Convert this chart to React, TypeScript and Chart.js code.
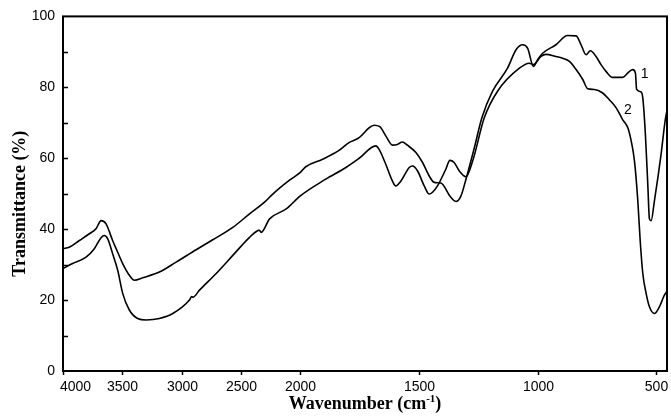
import React, { useEffect, useRef } from 'react';
import { Chart, registerables } from 'chart.js';

Chart.register(...registerables);

// Wavenumber axis: 500 cm-1 spans twice as wide below 2000 cm-1 as above it
const toU = (w: number) => (w > 2000 ? 2000 + (w - 2000) / 2 : w);
const fromU = (u: number) => (u > 2000 ? 2000 + (u - 2000) * 2 : u);

const X_MIN_WN = 455;
const X_MAX_WN = 4000;
const X_TICKS = [4000, 3500, 3000, 2500, 2000, 1500, 1000, 500];
const Y_MIN = 0;
const Y_MAX = 100;
const Y_STEP = 10;

// Spectrum 1
const WN1 = [4000, 3947, 3862, 3778, 3722, 3679, 3637, 3582, 3539, 3497, 3441, 3398, 3328, 3188, 3047, 2878, 2738, 2569, 2428, 2302, 2232, 2091, 2000, 1977, 1906, 1837, 1795, 1752, 1710, 1689, 1665, 1640, 1612, 1591, 1570, 1549, 1513, 1485, 1457, 1436, 1408, 1366, 1344, 1323, 1302, 1267, 1235, 1190, 1127, 1091, 1063, 1042, 1018, 1000, 979, 923, 874, 838, 817, 796, 778, 754, 733, 712, 684, 642, 613, 599, 588, 583, 564, 557, 546, 536, 529, 522, 508, 480, 463, 455];
const T1 = [34.5, 34.9, 36.8, 38.7, 40.1, 42.4, 41.5, 36.8, 33.5, 30.3, 27.0, 25.6, 26.3, 27.9, 30.7, 34.2, 37.0, 40.5, 44.3, 47.6, 49.9, 53.8, 56.0, 57.6, 59.7, 62.2, 64.4, 65.8, 68.6, 69.3, 68.9, 66.3, 63.7, 63.9, 64.6, 63.7, 61.6, 58.8, 55.0, 53.2, 53.0, 49.0, 47.8, 49.4, 54.1, 62.9, 71.4, 78.9, 85.4, 90.6, 92.0, 91.0, 85.9, 87.8, 89.6, 92.0, 94.6, 94.5, 92.0, 89.2, 90.3, 88.7, 86.4, 84.5, 82.8, 82.8, 84.5, 85.0, 84.0, 79.4, 78.7, 77.0, 66.7, 52.7, 42.9, 42.4, 48.0, 61.1, 70.5, 73.5];

// Spectrum 2
const WN2 = [4000, 3919, 3806, 3736, 3679, 3652, 3624, 3582, 3539, 3497, 3441, 3371, 3300, 3188, 3075, 2934, 2915, 2905, 2850, 2709, 2569, 2428, 2358, 2345, 2330, 2259, 2119, 2000, 1893, 1808, 1752, 1682, 1668, 1640, 1612, 1598, 1576, 1541, 1527, 1506, 1478, 1457, 1443, 1422, 1387, 1370, 1352, 1330, 1302, 1274, 1225, 1169, 1077, 1035, 1018, 986, 965, 923, 895, 866, 838, 810, 789, 761, 726, 698, 669, 642, 620, 606, 592, 578, 568, 557, 543, 529, 508, 487, 466, 455];
const T2 = [28.9, 30.3, 32.1, 34.5, 37.6, 38.2, 37.3, 33.1, 28.4, 21.9, 17.2, 14.8, 14.4, 14.8, 16.2, 20.0, 21.0, 20.8, 22.8, 27.5, 32.6, 37.7, 39.6, 39.7, 39.1, 42.9, 45.7, 49.4, 54.1, 57.4, 60.0, 63.5, 62.5, 58.3, 53.6, 52.2, 53.6, 57.4, 57.8, 56.4, 52.2, 49.9, 50.4, 52.2, 56.9, 59.4, 58.8, 56.4, 54.8, 59.2, 71.4, 78.9, 85.4, 86.8, 86.4, 88.7, 89.3, 88.7, 88.2, 87.3, 85.0, 82.2, 79.6, 79.4, 78.4, 76.5, 74.2, 70.9, 68.6, 64.9, 59.2, 48.0, 36.8, 27.5, 21.9, 18.1, 16.2, 18.1, 21.4, 22.5];

// Curve annotations
const CURVE_LABELS = ['1', '2'];
const LABEL_WN = [549, 620];
const LABEL_T = [83.6, 73.7];

const X_TITLE = 'Wavenumber (cm';
const X_TITLE_SUP = '-1';
const X_TITLE_END = ')';
const Y_TITLE = 'Transmittance (%)';

const SANS = '"Liberation Sans", Arial, Helvetica, sans-serif';
const SERIF = '"Liberation Serif", "Times New Roman", serif';

export default function App() {
  const ref = useRef<HTMLCanvasElement>(null);

  useEffect(() => {
    const decor = {
      id: 'decor',
      afterDraw(chart: any) {
        const { ctx, chartArea, scales } = chart;
        const { left, right, top, bottom } = chartArea;
        const xs = scales.x;
        const ys = scales.y;
        ctx.save();
        ctx.strokeStyle = '#000';
        ctx.fillStyle = '#000';
        ctx.lineWidth = 2;
        ctx.strokeRect(left, top, right - left, bottom - top);

        ctx.lineWidth = 1.5;
        ys.ticks.forEach((t: any) => {
          if (t.value <= Y_MIN || t.value >= Y_MAX) return;
          const py = Math.round(ys.getPixelForValue(t.value)) + 0.5;
          ctx.beginPath();
          ctx.moveTo(left, py);
          ctx.lineTo(left + 5, py);
          ctx.stroke();
        });

        // x ticks and labels
        ctx.font = `14px ${SANS}`;
        ctx.textAlign = 'left';
        ctx.textBaseline = 'alphabetic';
        xs.ticks.forEach((t: any) => {
          const px = Math.round(xs.getPixelForValue(t.value)) + 0.5;
          ctx.beginPath();
          ctx.moveTo(px, bottom);
          ctx.lineTo(px, bottom + 4);
          ctx.stroke();
          const label = String(Math.round(fromU(t.value)));
          const lw = ctx.measureText(label).width;
          let lx = px - lw / 2;
          if (lx < left - 3) lx = left - 3;
          ctx.fillText(label, lx, bottom + 20);
        });

        // x title with superscript
        const mainFont = `bold 18px ${SERIF}`;
        const supFont = `bold 11px ${SERIF}`;
        ctx.font = mainFont;
        const w1 = ctx.measureText(X_TITLE).width;
        const w3 = ctx.measureText(X_TITLE_END).width;
        ctx.font = supFont;
        const w2 = ctx.measureText(X_TITLE_SUP).width;
        const total = w1 + w2 + w3;
        const sx = (left + right) / 2 - total / 2;
        const by = bottom + 38;
        ctx.font = mainFont;
        ctx.fillText(X_TITLE, sx, by);
        ctx.font = supFont;
        ctx.fillText(X_TITLE_SUP, sx + w1, by - 7);
        ctx.font = mainFont;
        ctx.fillText(X_TITLE_END, sx + w1 + w2, by);

        // y title
        ctx.save();
        ctx.translate(20, (top + bottom) / 2 + 10);
        ctx.rotate(-Math.PI / 2);
        ctx.textAlign = 'center';
        ctx.textBaseline = 'middle';
        ctx.font = mainFont;
        ctx.fillText(Y_TITLE, 0, 0);
        ctx.restore();

        // curve labels
        ctx.font = `14px ${SANS}`;
        ctx.textAlign = 'center';
        ctx.textBaseline = 'middle';
        CURVE_LABELS.forEach((lab, i) => {
          ctx.fillText(lab, xs.getPixelForValue(toU(LABEL_WN[i])), ys.getPixelForValue(LABEL_T[i]));
        });
        ctx.restore();
      },
    };

    const mk = (wn: number[], t: number[]) => wn.map((w, i) => ({ x: toU(w), y: t[i] }));

    const chart = new Chart(ref.current as HTMLCanvasElement, {
      type: 'line',
      data: {
        datasets: [
          { data: mk(WN1, T1), borderColor: '#000', borderWidth: 1.6, pointRadius: 0, fill: false, cubicInterpolationMode: 'monotone' },
          { data: mk(WN2, T2), borderColor: '#000', borderWidth: 1.6, pointRadius: 0, fill: false, cubicInterpolationMode: 'monotone' },
        ],
      } as any,
      options: {
        responsive: false,
        animation: false,
        layout: { padding: { top: 14, right: 4, left: 0, bottom: 0 } },
        plugins: { legend: { display: false }, tooltip: { enabled: false } },
        scales: {
          x: {
            type: 'linear',
            reverse: true,
            min: toU(X_MIN_WN),
            max: toU(X_MAX_WN),
            afterBuildTicks: (s: any) => {
              s.ticks = X_TICKS.map((w) => ({ value: toU(w) }));
            },
            afterFit: (s: any) => {
              s.height = 49;
            },
            grid: { display: false, drawTicks: false },
            border: { display: false },
            ticks: { display: false },
          },
          y: {
            min: Y_MIN,
            max: Y_MAX,
            afterFit: (s: any) => {
              s.width = 63;
            },
            grid: { display: false, drawTicks: false },
            border: { display: false },
            ticks: {
              stepSize: Y_STEP,
              padding: 8,
              color: '#000',
              font: { family: SANS, size: 14 },
              callback: (v: any) => (Number(v) % 20 === 0 ? String(v) : ''),
            },
          },
        },
      } as any,
      plugins: [decor],
    });
    return () => chart.destroy();
  }, []);

  return (
    <div style={{ position: 'fixed', left: 0, top: 0, width: 671, height: 420, background: '#fff' }}>
      <canvas ref={ref} width={671} height={420} style={{ display: 'block' }} />
    </div>
  );
}
